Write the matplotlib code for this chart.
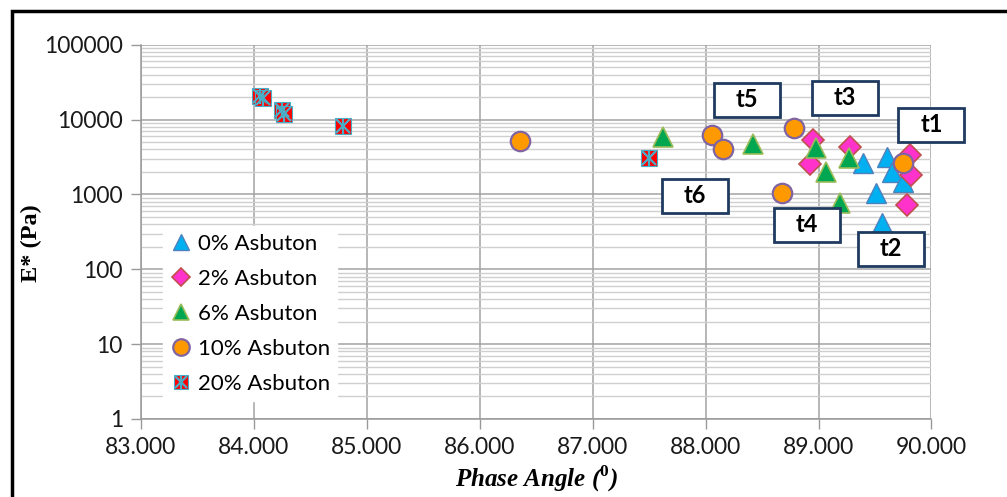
import matplotlib
matplotlib.use("Agg")
import matplotlib.pyplot as plt
from matplotlib.patches import Rectangle
from matplotlib.ticker import LogLocator, FuncFormatter

# Данные: фазовый угол (град) и E* (Pa)
series_labels = ['0% Asbuton', '2% Asbuton', '6% Asbuton', '10% Asbuton', '20% Asbuton']

phase_0 = [89.39, 89.61, 89.65, 89.75, 89.51, 89.56]
modulus_0 = [2650, 3200, 2000, 1480, 1050, 420]

phase_2 = [88.95, 88.92, 89.28, 89.81, 89.82, 89.78]
modulus_2 = [5400, 2550, 4300, 3400, 1830, 730]

phase_6 = [87.62, 88.42, 88.98, 89.07, 89.27, 89.19]
modulus_6 = [5900, 4750, 4200, 2000, 3100, 770]

phase_10 = [86.36, 88.06, 88.15, 88.78, 88.68, 89.75]
modulus_10 = [5200, 6300, 4000, 7800, 1050, 2650]

phase_20 = [84.05, 84.08, 84.25, 84.27, 84.79, 87.50]
modulus_20 = [20500, 19500, 13500, 12000, 8200, 3100]

# подписи температур (в долях осей)
tag_texts = ['t1', 't2', 't3', 't4', 't5', 't6']
tag_pos = [(1.000, 0.786), (0.949, 0.455), (0.890, 0.858),
           (0.842, 0.519), (0.767, 0.853), (0.701, 0.596)]

x_ticks = [83, 84, 85, 86, 87, 88, 89, 90]

tick_font = 'Lato'
serif_font = 'Liberation Serif'
plt.rcParams['mathtext.fontset'] = 'custom'
plt.rcParams['mathtext.rm'] = 'Liberation Serif:bold'
plt.rcParams['mathtext.bf'] = 'Liberation Serif:bold'

fig = plt.figure(figsize=(10.07, 4.97), dpi=100)
ax = fig.add_axes([0.140, 0.157, 0.785, 0.753])

ax.set_yscale('log')
ax.set_xlim(83, 90)
ax.set_ylim(1, 100000)

ms = 14
h0, = ax.plot(phase_0, modulus_0, linestyle='none', marker='^', ms=ms,
              mfc='#00b0f0', mec='#4f81bd', mew=1.0, zorder=3)
h2, = ax.plot(phase_2, modulus_2, linestyle='none', marker='D', ms=ms * 0.78,
              mfc='#ff33cc', mec='#c0504d', mew=1.2, zorder=3)
h6, = ax.plot(phase_6, modulus_6, linestyle='none', marker='^', ms=ms,
              mfc='#00a650', mec='#9bbb59', mew=1.2, zorder=3)
h10, = ax.plot(phase_10, modulus_10, linestyle='none', marker='o', ms=ms,
               mfc='#ff9900', mec='#8064a2', mew=1.6, zorder=3)
h20a, = ax.plot(phase_20, modulus_20, linestyle='none', marker='s', ms=ms * 0.85,
                mfc='#ff0000', mec='#4bacc6', mew=0.8, zorder=3)
h20b, = ax.plot(phase_20, modulus_20, linestyle='none', marker='x', ms=ms * 0.75,
                mec='#4bacc6', mew=1.6, zorder=4)
h20c, = ax.plot(phase_20, modulus_20, linestyle='none', marker='|', ms=ms * 0.8,
                mec='#4bacc6', mew=1.6, zorder=4)

# сетка
ax.set_xticks(x_ticks)
ax.xaxis.set_major_formatter(FuncFormatter(lambda v, p: f'{v:.3f}'))
ax.yaxis.set_major_locator(LogLocator(base=10, numticks=10))
ax.yaxis.set_minor_locator(LogLocator(base=10, subs=range(2, 10), numticks=20))
ax.yaxis.set_major_formatter(FuncFormatter(lambda v, p: f'{int(round(v))}'))
ax.yaxis.set_minor_formatter(FuncFormatter(lambda v, p: ''))

ax.grid(True, which='major', axis='both', color='#a3a3a3', linewidth=1.1, zorder=0)
ax.grid(True, which='minor', axis='y', color='#cfcfcf', linewidth=1.0, zorder=0)
ax.set_axisbelow(True)

for side in ['top', 'right']:
    ax.spines[side].set_visible(False)
for side in ['left', 'bottom']:
    ax.spines[side].set_color('#999999')
    ax.spines[side].set_linewidth(1.1)

ax.tick_params(axis='both', which='major', direction='out', length=7, width=1.0,
               color='#999999', labelsize=16.5, labelcolor='#1a1a1a', pad=6)
ax.tick_params(axis='y', which='minor', length=0)
for lab in ax.get_xticklabels() + ax.get_yticklabels():
    lab.set_fontfamily(tick_font)

ax.set_xlabel(r'Phase Angle ($^{0}$)', fontfamily=serif_font, fontweight='bold',
              fontstyle='italic', fontsize=18, labelpad=4)
ax.set_ylabel('E* (Pa)', fontfamily=serif_font, fontweight='bold', fontsize=17.5)
ax.yaxis.set_label_coords(-0.125, 0.47)

leg = ax.legend([h0, h2, h6, h10, (h20a, h20b, h20c)], series_labels,
                loc='upper left', bbox_to_anchor=(0.028, 0.515),
                frameon=True, fancybox=False, framealpha=1.0,
                prop={'family': tick_font, 'size': 16},
                handlelength=0.9, handletextpad=0.3, labelspacing=0.67,
                borderpad=0.35, borderaxespad=0, markerscale=0.85)
leg.get_frame().set_edgecolor('white')
leg.get_frame().set_facecolor('white')
leg.set_zorder(5)

# рамки с подписями
box_w, box_h = 0.0835, 0.091
for txt, (cx, cy) in zip(tag_texts, tag_pos):
    rect = Rectangle((cx - box_w / 2, cy - box_h / 2), box_w, box_h,
                     transform=ax.transAxes, facecolor='white', edgecolor='#1f3a5f',
                     linewidth=2.0, clip_on=False, zorder=6)
    ax.add_patch(rect)
    ax.text(cx, cy, txt, transform=ax.transAxes, ha='center', va='center',
            fontfamily=tick_font, fontsize=17, fontweight='bold', color='black',
            zorder=7, clip_on=False)

# чёрная рамка вокруг рисунка
fig.add_artist(Rectangle((12 / 1007, -0.2), 1.2, 1.2 - 11 / 497,
                         transform=fig.transFigure, fill=False,
                         edgecolor='black', linewidth=2.5))

fig.savefig('out.png', dpi=100)
plt.close(fig)
